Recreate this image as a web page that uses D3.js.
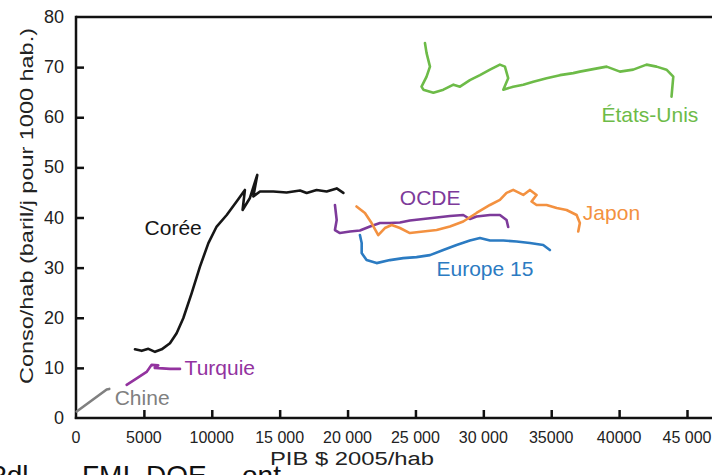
<!DOCTYPE html>
<html>
<head>
<meta charset="utf-8">
<script src="https://cdn.jsdelivr.net/npm/d3@7"></script>
<style>
  html, body { margin: 0; padding: 0; background: #fff; }
  svg { display: block; }
  text { font-family: "Liberation Sans", Arial, sans-serif; }
</style>
</head>
<body>
<svg id="chart" width="712" height="475"></svg>
<script>
// Trajectories: [PIB $2005/hab, conso (baril/j pour 1000 hab.)]
const etatsUnis = [
  [25700, 74.8], [25820, 72.8], [26070, 70.1], [25820, 68.1], [25450, 66.1], [25580, 65.5],
  [26320, 64.9], [27060, 65.5], [27800, 66.5], [28280, 66.1], [29010, 67.4], [29750, 68.4],
  [30490, 69.5], [31220, 70.5], [31590, 70.1], [31830, 67.8], [31470, 65.5], [32200, 66.1],
  [32940, 66.5], [33680, 67.1], [34660, 67.8], [35640, 68.4], [36620, 68.8], [37110, 69.1],
  [38090, 69.6], [39080, 70.1], [40060, 69.1], [41040, 69.5], [42020, 70.5], [42760, 70.1],
  [43490, 69.5], [43990, 68.1], [43860, 64.1]
];
const coree = [
  [4345, 13.7], [4840, 13.4], [5330, 13.8], [5820, 13.2], [6310, 13.7], [6920, 14.9],
  [7410, 16.9], [7900, 19.9], [8520, 24.9], [9130, 30.2], [9750, 34.9], [10360, 38.2],
  [11100, 40.5], [11830, 43.2], [12440, 45.5], [12270, 41.5], [12810, 43.9], [13350, 48.5],
  [13060, 44.2], [13550, 45.2], [14530, 45.2], [15510, 45.0], [16500, 45.4], [16990, 44.9],
  [17720, 45.5], [18460, 45.2], [19200, 45.8], [19690, 44.9]
];
const ocde = [
  [19070, 42.5], [19200, 39.5], [19070, 37.5], [19440, 36.9], [20180, 37.2], [20910, 37.4],
  [21650, 38.2], [22390, 38.9], [23120, 38.9], [23860, 39.0], [24590, 39.4], [25570, 39.7],
  [26560, 40.0], [27540, 40.3], [28520, 40.5], [29010, 39.7], [29500, 40.2], [30490, 40.5],
  [31220, 40.5], [31710, 39.5], [31830, 38.1]
];
const japon = [
  [20660, 42.2], [21280, 40.9], [21770, 38.9], [22260, 36.5], [22750, 37.9], [23250, 38.5],
  [23860, 37.9], [24590, 36.9], [25570, 37.2], [26560, 37.5], [27540, 38.2], [28520, 39.2],
  [29500, 40.9], [30490, 42.5], [31220, 43.5], [31710, 44.9], [32200, 45.5], [32940, 44.5],
  [33430, 45.5], [33920, 44.5], [33550, 43.2], [33920, 42.5], [34660, 42.5], [35400, 41.9],
  [36130, 41.5], [36870, 40.5], [37110, 38.9], [36990, 37.2]
];
const europe15 = [
  [20910, 36.5], [21040, 34.9], [21040, 32.9], [21400, 31.5], [22140, 30.9], [23120, 31.5],
  [24100, 31.9], [25080, 32.1], [26070, 32.5], [27050, 33.5], [28030, 34.5], [29010, 35.4],
  [29750, 35.9], [30490, 35.4], [31470, 35.4], [32450, 35.2], [33430, 34.9], [34410, 34.5],
  [34900, 33.5]
];
const turquie = [
  [3730, 6.6], [4470, 7.9], [5200, 9.2], [5570, 10.6], [6060, 10.5], [5800, 10.0],
  [6920, 9.8], [7660, 9.8]
];
const chine = [[50, 1.3], [2260, 5.7], [2450, 5.8]];

const xTicks = [0, 5000, 10000, 15000, 20000, 25000, 30000, 35000, 40000, 45000];
const xTickLabels = ["0", "5000", "10000", "15 000", "20 000", "25 000", "30 000", "35000", "40000", "45 000"];
const yTicks = [0, 10, 20, 30, 40, 50, 60, 70, 80];

const series = [
  { name: "États-Unis", pts: etatsUnis, color: "#6dbb48", label: [38700, 60.5] },
  { name: "Corée", pts: coree, color: "#161616", label: [5050, 38.0] },
  { name: "OCDE", pts: ocde, color: "#7d3a9a", label: [23850, 43.9] },
  { name: "Japon", pts: japon, color: "#f39140", label: [37330, 40.9] },
  { name: "Europe 15", pts: europe15, color: "#2b7bc2", label: [26550, 29.9] },
  { name: "Turquie", pts: turquie, color: "#93339f", label: [8000, 10.0] },
  { name: "Chine", pts: chine, color: "#808080", label: [2850, 4.0] }
];

(function draw() {
  const svg = d3.select("#chart");
  const frameLeft = 76, frameRight = 712, frameTop = 17, frameBottom = 418;

  const x = d3.scaleLinear().domain([0, 45000]).range([frameLeft, 687]);
  const y = d3.scaleLinear().domain([0, 80]).range([frameBottom, frameTop]);

  // Frame: top rule
  svg.append("line").attr("x1", frameLeft).attr("x2", frameRight)
    .attr("y1", frameTop).attr("y2", frameTop)
    .attr("stroke", "#111").attr("stroke-width", 2.5);

  // Y axis with inward ticks
  const yAxis = d3.axisRight(y).tickValues(yTicks.filter(v => v > 0 && v < 80))
    .tickSize(8).tickFormat("");
  svg.append("g").attr("transform", `translate(${frameLeft},0)`).call(yAxis)
    .call(g => g.select(".domain").remove())
    .selectAll("line").attr("stroke", "#111").attr("stroke-width", 2.5);
  svg.append("line").attr("x1", frameLeft).attr("x2", frameLeft)
    .attr("y1", frameTop - 1.2).attr("y2", frameBottom + 1)
    .attr("stroke", "#111").attr("stroke-width", 2.5);

  svg.append("g").selectAll("text").data(yTicks).join("text")
    .attr("x", 64).attr("y", d => y(d)).attr("text-anchor", "end")
    .attr("dominant-baseline", "central").attr("font-size", 18).attr("fill", "#222")
    .text(d => d);

  // X axis with inward ticks
  const xAxis = d3.axisTop(x).tickValues(xTicks.filter(v => v > 0)).tickSize(8).tickFormat("");
  svg.append("g").attr("transform", `translate(0,${frameBottom})`).call(xAxis)
    .call(g => g.select(".domain").remove())
    .selectAll("line").attr("stroke", "#111").attr("stroke-width", 2.5);
  svg.append("line").attr("x1", frameLeft - 1.2).attr("x2", frameRight)
    .attr("y1", frameBottom).attr("y2", frameBottom)
    .attr("stroke", "#111").attr("stroke-width", 2.5);

  svg.append("g").selectAll("text").data(xTicks).join("text")
    .attr("x", d => x(d)).attr("y", 437).attr("text-anchor", "middle")
    .attr("dominant-baseline", "central").attr("font-size", 16).attr("fill", "#222")
    .text((d, i) => xTickLabels[i]);

  // Axis titles
  svg.append("text").attr("x", 352).attr("y", 459).attr("text-anchor", "middle")
    .attr("dominant-baseline", "central").attr("font-size", 18).attr("fill", "#222")
    .attr("textLength", 164).attr("lengthAdjust", "spacingAndGlyphs")
    .text("PIB $ 2005/hab");

  svg.append("text").attr("transform", "translate(27,206) rotate(-90)")
    .attr("text-anchor", "middle").attr("dominant-baseline", "central")
    .attr("font-size", 18).attr("fill", "#222")
    .attr("textLength", 356).attr("lengthAdjust", "spacingAndGlyphs")
    .text("Conso/hab  (baril/j pour 1000 hab.)");

  // Trajectory lines
  const line = d3.line().x(d => x(d[0])).y(d => y(d[1]));
  svg.append("g").selectAll("path").data(series).join("path")
    .attr("d", d => line(d.pts)).attr("fill", "none")
    .attr("stroke", d => d.color).attr("stroke-width", 2.6)
    .attr("stroke-linejoin", "round").attr("stroke-linecap", "round");

  // Series labels
  svg.append("g").selectAll("text").data(series).join("text")
    .attr("x", d => x(d.label[0])).attr("y", d => y(d.label[1]))
    .attr("dominant-baseline", "central").attr("font-size", 21)
    .attr("fill", d => d.color).text(d => d.name);

  // Source line below the chart, running off the bottom edge
  const srcWords = [["Pdl", -12], ["FMI,", 82], ["DOE,", 146], ["ont", 242]];
  svg.append("g").selectAll("text").data(srcWords).join("text")
    .attr("x", d => d[1]).attr("y", 485)
    .attr("font-family", "'Liberation Serif', 'Times New Roman', serif")
    .attr("font-size", 28).attr("fill", "#111").text(d => d[0]);
})();
</script>
</body>
</html>
